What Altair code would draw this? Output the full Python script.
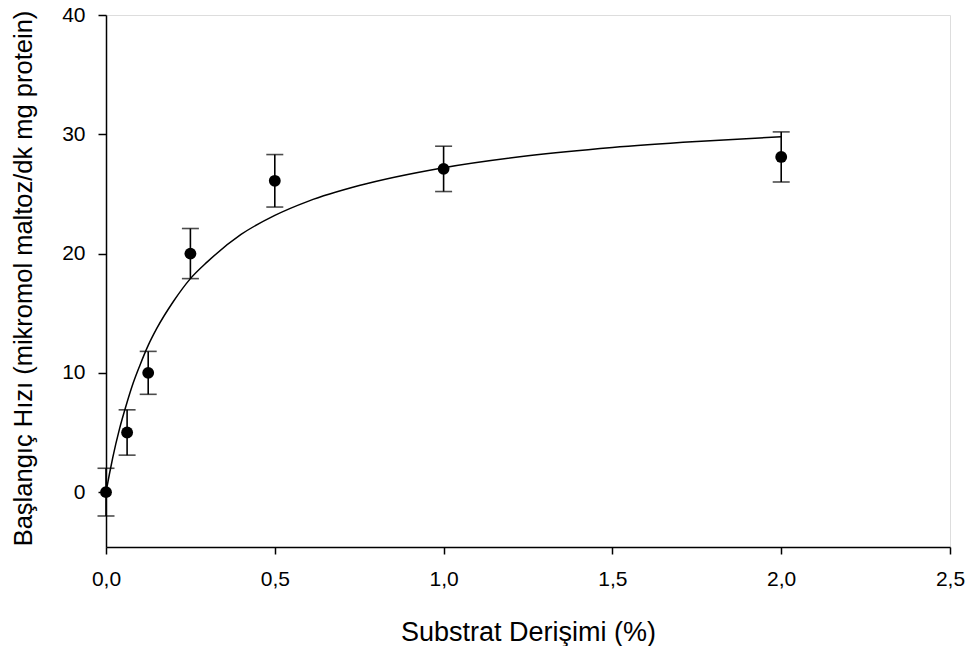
import altair as alt
import pandas as pd

# measured data points (substrate %, initial rate, error)
sub_x = [0.0, 0.0625, 0.125, 0.25, 0.5, 1.0, 2.0]
rate_y = [0.0, 5.0, 10.0, 20.0, 26.1, 27.1, 28.1]
rate_err = [2.0, 1.9, 1.8, 2.1, 2.2, 1.9, 2.1]

# fitted curve
curve_x = [0.0, 0.01, 0.02, 0.04, 0.06, 0.08, 0.1, 0.125, 0.15, 0.2, 0.25, 0.3,
           0.4, 0.5, 0.6, 0.75, 1.0, 1.25, 1.5, 1.75, 2.0]
curve_y = [0.0, 1.5, 2.9, 5.3, 7.3, 9.1, 10.6, 12.3, 13.7, 16.0, 17.9, 19.3,
           21.6, 23.2, 24.4, 25.7, 27.2, 28.2, 28.9, 29.4, 29.8]

x_ticks = [0.0, 0.5, 1.0, 1.5, 2.0, 2.5]
y_ticks = [0, 10, 20, 30, 40]

pts = pd.DataFrame({"x": sub_x, "y": rate_y, "e": rate_err})
pts["lo"] = pts["y"] - pts["e"]
pts["hi"] = pts["y"] + pts["e"]
cur = pd.DataFrame({"x": curve_x, "y": curve_y})

FONT = "Liberation Sans"

xscale = alt.Scale(domain=[0, 2.5], nice=False, zero=False)
yscale = alt.Scale(domain=[-4.6, 40], nice=False, zero=False)

xaxis = alt.Axis(
    title="Substrat Derişimi (%)", values=x_ticks, grid=False,
    labelExpr="replace(format(datum.value, '.1f'), '.', ',')",
    domainColor="black", domainWidth=1.5, tickColor="black", tickWidth=1.5,
    tickSize=7, labelPadding=14, labelFontSize=21, labelFont=FONT,
    labelColor="black", titleFont=FONT, titleFontSize=27, titleFontWeight="normal",
    titleColor="black", titleY=72, titleBaseline="top", labelFlush=False,
)
yaxis = alt.Axis(
    title="Başlangıç Hızı (mikromol maltoz/dk mg protein)", values=y_ticks, grid=False,
    domainColor="black", domainWidth=1.5, tickColor="black", tickWidth=1.5,
    tickSize=8, labelPadding=13, labelFontSize=21, labelFont=FONT,
    labelColor="black", titleFont=FONT, titleFontSize=25.5, titleFontWeight="normal",
    titleColor="black", titleX=-70, titleY=263, titleBaseline="bottom", labelFlush=False,
)

base_pts = alt.Chart(pts)

curve = alt.Chart(cur).mark_line(color="black", strokeWidth=1.5, interpolate="monotone").encode(
    x=alt.X("x:Q", scale=xscale, axis=xaxis),
    y=alt.Y("y:Q", scale=yscale, axis=yaxis),
)

rules = base_pts.mark_rule(color="black", strokeWidth=1.6).encode(
    x="x:Q", y="lo:Q", y2="hi:Q"
)
cap_lo = base_pts.mark_tick(color="black", orient="horizontal", size=17, thickness=1.6).encode(
    x="x:Q", y="lo:Q"
)
cap_hi = base_pts.mark_tick(color="black", orient="horizontal", size=17, thickness=1.6).encode(
    x="x:Q", y="hi:Q"
)
dots = base_pts.mark_circle(color="black", opacity=1, size=140).encode(
    x="x:Q", y="y:Q"
)

chart = alt.layer(curve, rules, cap_lo, cap_hi, dots).properties(
    width=844, height=532,
    autosize=alt.AutoSizeParams(type="none"),
    padding={"left": 106, "top": 15, "right": 22, "bottom": 99},
).configure_view(stroke=None).configure(background="white")

chart.save("out.html", embed_options={"renderer": "svg", "actions": False})
